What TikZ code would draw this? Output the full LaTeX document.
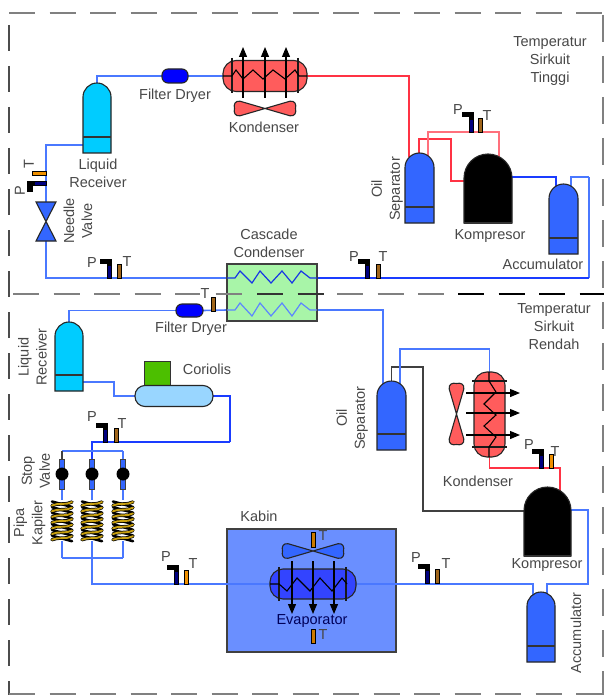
\documentclass[tikz,border=0pt]{standalone}
\usepackage{fontspec}
\setmainfont{Liberation Sans}
\usetikzlibrary{arrows.meta,shapes.misc}
\pgfdeclarelayer{back}
\pgfdeclarelayer{pipes}
\pgfsetlayers{back,pipes,main}
\definecolor{txt}{HTML}{484848}
\definecolor{vesblue}{HTML}{3366FF}
\definecolor{vescyan}{HTML}{00CCFF}
\definecolor{redfill}{HTML}{FF5C5C}
\definecolor{pipeblue}{HTML}{4A78FF}
\definecolor{pipedeep}{HTML}{1A3CFF}
\definecolor{pipered}{HTML}{FF3344}
\definecolor{brownT}{HTML}{A0651A}
\definecolor{orangeT}{HTML}{F09000}
\definecolor{framegray}{HTML}{808080}
\definecolor{kabinfill}{HTML}{6A8FFF}
\definecolor{evapfill}{HTML}{3344FF}
\definecolor{greenfill}{HTML}{A8F5A8}
\definecolor{coilgold}{HTML}{C8A010}
\tikzset{
  lbl/.style={font=\fontsize{14.5}{18}\selectfont,text=txt,align=center,inner sep=0pt},
  senslbl/.style={font=\fontsize{14.5}{18}\selectfont,text=txt,inner sep=0pt},
  pb/.style={draw=pipeblue,line width=1.6pt},
  pd/.style={draw=pipedeep,line width=1.4pt},
  pr/.style={draw=pipered,line width=1.5pt},
  pk/.style={draw=black!75,line width=1.3pt},
  edge/.style={draw=black!85,line width=1.1pt},
  capsule/.style={rectangle,rounded corners=#1,edge,inner sep=0pt,outer sep=0pt},
  ghost/.style={inner sep=0pt,outer sep=0pt},
  arrowline/.style={line width=1.2pt,-{Triangle[length=10pt,width=8pt]}},
  zig/.style={line width=1.1pt,black},
  sheet/.style={line width=1.3pt,black!90},
  framea/.style={framegray,line width=2.3pt,dash pattern=on 26pt off 14.5pt},
  frameb/.style={black!70,line width=1.6pt,dash pattern=on 26pt off 15pt},
  framec/.style={black!80,line width=1.4pt,dash pattern=on 26pt off 14.5pt}
}
\newcommand{\vessel}[7]{%
  \pgfmathsetmacro\vm{(#2+#3)/2}%
  \pgfmathsetmacro\vh{(#3-#2)/2}%
  \pgfmathsetmacro\vs{#4+\vh}%
  \pgfmathsetmacro\vk{0.55*\vh}%
  \pgfmathsetmacro\vc{(#4+#5)/2}%
  \pgfmathsetmacro\vw{#3-#2}%
  \pgfmathsetmacro\vt{#5-#4}%
  \node[ghost,minimum width=\vw pt,minimum height=\vt pt] (#1) at (\vm,\vc) {};
  \draw[edge,fill=#7] (#2,#5) -- (#2,\vs) .. controls (#2,\vs-\vk) and (\vm-\vk,#4) .. (\vm,#4)
     .. controls (\vm+\vk,#4) and (#3,\vs-\vk) .. (#3,\vs) -- (#3,#5) -- cycle;
  \draw[line width=1.3pt,black!80] (#2,#6) -- (#3,#6);
}
% name Px yb Tx Tcolour Plabel Tlabel
\newcommand{\gauges}[7]{%
  \fill[black] (#2-9,#3-19.5) rectangle (#2+2.5,#3-14.5);
  \fill[black] (#2-2.5,#3-19.5) rectangle (#2+2.5,#3-13);
  \draw[black,line width=0.6pt,fill=blue!50!black] (#2-2.2,#3-13) rectangle (#2+2.2,#3);
  \draw[black,line width=0.6pt,fill=#5] (#4-2.2,#3-14) rectangle (#4+2.2,#3);
  \node[senslbl] (p#1) at #6 {P};
  \node[senslbl] (t#1) at #7 {T};
}
\newcommand{\fanshape}[4]{%
  \begin{scope}[shift={(#1,#2)},rotate=#3]
  \draw[edge,fill=#4] (0,0) -- (-25,-7.3)
     .. controls (-30,-8) and (-31.5,-4) .. (-30.5,0)
     .. controls (-31.5,4) and (-30,8) .. (-25,7.3)
     -- (0,0) -- (25,-7.3)
     .. controls (30,-8) and (31.5,-4) .. (30.5,0)
     .. controls (31.5,4) and (30,8) .. (25,7.3)
     -- (0,0) -- cycle;
  \end{scope}
}
\newcommand{\stopvalve}[2]{%
  \node[rectangle,draw=black!75,fill=vesblue,line width=1pt,minimum width=5.5pt,minimum height=30pt,inner sep=0pt,outer sep=0pt] (#1) at (#2,474) {};
  \fill[black] (#2,474) circle [radius=6.5pt];
}
\newcommand{\coil}[2]{%
  \node[ghost,minimum width=22pt,minimum height=41pt] (#1) at (#2,520.5) {};
  \foreach \i in {0,...,6} {
    \pgfmathsetmacro\yy{503.5+5.7*\i}
    \draw[black,line width=2.6pt,line cap=round] (#2-10,\yy-2) -- (#2+10,\yy+3.5);
  }
  \foreach \i in {0,...,6} {
    \pgfmathsetmacro\yy{503.5+5.7*\i}
    \draw[black,line width=3.4pt,line cap=round] (#2-10,\yy+2) .. controls (#2-4,\yy-1) and (#2+4,\yy+2) .. (#2+10,\yy-1.5);
    \draw[coilgold,line width=1.9pt,line cap=round] (#2-10,\yy+2) .. controls (#2-4,\yy-1) and (#2+4,\yy+2) .. (#2+10,\yy-1.5);
  }
}
\begin{document}
\begin{tikzpicture}[x=1pt,y=-1pt]
\useasboundingbox (0,0) rectangle (604,695);
\begin{pgfonlayer}{back}
  \fill[white] (0,0) rectangle (604,695);
  \node[rectangle,draw=black!75,line width=1.2pt,fill=kabinfill,minimum width=169pt,minimum height=123pt,inner sep=0pt,outer sep=0pt] (kabin) at (311.5,590.5) {};
\end{pgfonlayer}

% ---------- upper circuit components
\vessel{rcv1}{83}{111}{83}{153}{137}{vescyan}
\node[capsule=6pt,fill=blue,minimum width=26pt,minimum height=14pt] (fd1) at (175,76) {};
\node[lbl] (fd1l) at (175,96) {Filter Dryer};
\node[capsule=13pt,fill=redfill,minimum width=84pt,minimum height=31pt] (cond1) at (265,76) {};
\draw[sheet] (232,58) -- (232,93) (298,58) -- (298,93);
\draw[zig] (223,76) -- (232,76) -- (236,70) -- (243,79) -- (253,70) -- (263,79) -- (273,70) -- (285,79) -- (295,70) -- (299,76) -- (307,76);
\foreach \xx in {243,265,286} { \draw[arrowline] (\xx,98) -- (\xx,47); }
\fanshape{265}{108.5}{0}{redfill}
\node[lbl] (cond1l) at (264,127) {Kondenser};
\vessel{sep1}{405}{434}{153}{223}{207}{vesblue}
\node[lbl,rotate=90] (sep1l) at (387,189) {Oil\\Separator};
\vessel{kp1}{464}{512}{154}{223}{223}{black}
\node[lbl] (kp1l) at (490,236) {Kompresor};
\vessel{acc1}{549}{578}{184}{254}{238}{vesblue}
\node[lbl] (acc1l) at (543,264) {Accumulator};
\node[lbl] (rcv1l) at (98,173) {Liquid\\Receiver};
\node[ghost,minimum width=20pt,minimum height=39pt] (nv) at (46,221.5) {};
\draw[edge,fill=vesblue] (36,202) -- (56,202) -- (36,241) -- (56,241) -- cycle;
\node[lbl,rotate=90] (nvl) at (78,221) {Needle\\Valve};
\node[lbl] (tsirk1) at (550,61) {Temperatur\\Sirkuit\\Tinggi};
\node[rectangle,draw=black!75,line width=1.2pt,fill=greenfill,minimum width=90pt,minimum height=57pt,inner sep=0pt,outer sep=0pt] (casc) at (272,292.5) {};
\node[lbl] (cascl) at (269,243) {Cascade\\Condenser};
% ---------- lower circuit components
\vessel{rcv2}{55}{83}{322}{391}{375}{vescyan}
\node[lbl,rotate=90] (rcv2l) at (32.5,357) {Liquid\\Receiver};
\node[capsule=6pt,fill=blue,minimum width=27pt,minimum height=13pt] (fd2) at (189.5,310.5) {};
\node[lbl] (fd2l) at (191,329) {Filter Dryer};
\node[rectangle,draw=black!80,line width=0.9pt,fill=green!60!yellow!75!black,minimum width=26pt,minimum height=25pt,inner sep=0pt] (corbox) at (157,373.5) {};
\node[capsule=10pt,fill=blue!40!cyan!40,minimum width=78pt,minimum height=21pt] (cor) at (174,396) {};
\node[lbl] (corl) at (207,369) {Coriolis};
\stopvalve{sv1}{62}
\stopvalve{sv2}{92}
\stopvalve{sv3}{123}
\coil{cp1}{62}
\coil{cp2}{92}
\coil{cp3}{123}
\node[lbl,rotate=90] (svl) at (36,471) {Stop\\Valve};
\node[lbl,rotate=90] (cpl) at (29.5,523) {Pipa\\Kapiler};
\node[lbl] (kabinl) at (259,516) {Kabin};
\fanshape{313}{551}{0}{vesblue}
\node[capsule=13pt,fill=evapfill,minimum width=86pt,minimum height=30pt] (evap) at (313,584) {};
\draw[sheet] (279,567) -- (279,601) (346,567) -- (346,601);
\draw[zig] (270,584) -- (279,584) -- (287,591) -- (297,578) -- (310,591) -- (320,578) -- (332,591) -- (342,578) -- (347,584);
\foreach \xx in {292,313,334} { \draw[arrowline] (\xx,561) -- (\xx,614); }
\node[lbl,text=black!65!blue] (evapl) at (312,621) {Evaporator};
\draw[black,line width=0.6pt,fill=orangeT!85!black] (310.8,532) rectangle (315.2,547);
\node[senslbl] (tk1) at (323,536) {T};
\draw[black,line width=0.6pt,fill=orangeT!85!black] (310.8,629) rectangle (315.2,643);
\node[senslbl] (tk2) at (323,635) {T};
\vessel{sep2}{377}{406}{381}{450}{434}{vesblue}
\node[lbl,rotate=90] (sep2l) at (352,418) {Oil\\Separator};
\node[capsule=13pt,fill=redfill,minimum width=31pt,minimum height=85pt] (cond2) at (489.5,414.5) {};
\draw[sheet] (472,381) -- (507,381) (472,447) -- (507,447);
\draw[zig] (489,372) -- (489,381) -- (496,392) -- (484,404) -- (496,415) -- (484,426) -- (496,437) -- (489,447) -- (489,457);
\foreach \yy in {393,413,435} { \draw[arrowline] (466,\yy) -- (520,\yy); }
\fanshape{456.5}{414}{90}{redfill}
\node[lbl] (cond2l) at (478,481) {Kondenser};
\vessel{kp2}{524}{571}{487}{556}{556}{black}
\node[lbl] (kp2l) at (547,565) {Kompresor};
\vessel{acc2}{527}{555}{592}{662}{646}{vesblue}
\node[lbl,rotate=90] (acc2l) at (576,633) {Accumulator};
\node[lbl] (tsirk2) at (554,327) {Temperatur\\Sirkuit\\Rendah};

% ---------- ports and bends
\coordinate (sep1a) at (409,157);
\coordinate (sep1b) at (419,155);
\coordinate (sep1c) at (428,160);
\coordinate (b1) at (451,139);
\coordinate (kp1a) at (464,181);
\coordinate (b2) at (499,132);
\coordinate (kp1b) at (499,160);
\coordinate (kp1c) at (512,177);
\coordinate (acc1a) at (556,188);
\coordinate (acc1b) at (571,188);
\coordinate (b3) at (589,177);
\coordinate (cascur) at (317,278);
\coordinate (cascul) at (227,278);
\coordinate (rcv1p) at (83,145);
\coordinate (casclr) at (317,310);
\coordinate (cascll) at (227,310);
\coordinate (rcv2p) at (83,382);
\coordinate (b4) at (114,396);
\coordinate (b5) at (230,442);
\coordinate (mt1) at (62,451);
\coordinate (mt3) at (123,451);
\coordinate (mb1) at (62,558);
\coordinate (mb3) at (123,558);
\coordinate (b9) at (588,584);
\coordinate (kp2c) at (571,510);
\coordinate (acc2a) at (533,595);
\coordinate (acc2b) at (547,595);
\coordinate (kp2a) at (524,511);
\coordinate (b10) at (423,367);
\coordinate (sep2a) at (383,385);
\coordinate (sep2b) at (400,385);
\coordinate (b12) at (489.5,349);
\coordinate (b13) at (560,468);
\coordinate (kp2b) at (560,491);
\coordinate (fTL) at (9,13);
\coordinate (fTR) at (604,13);
\coordinate (fL1) at (9,25);
\coordinate (fL2) at (9,695);
\coordinate (fR1) at (603,15);
\coordinate (fR2) at (603,695);
\coordinate (fBL) at (9,694);
\coordinate (fBR) at (604,694);
\coordinate (m1) at (13,294);
\coordinate (m2) at (243,294);
\coordinate (m3) at (257,294);
\coordinate (m4) at (324,294);
\coordinate (m5) at (337,294);
\coordinate (m6) at (445,294);
\coordinate (m7) at (458,294);
\coordinate (m8) at (604,294);

% ---------- pipes
\begin{pgfonlayer}{pipes}
  \draw[pb] (rcv1.north) |- (fd1.west);
  \draw[pb] (fd1.east) -- (cond1.west);
  \draw[pr] (cond1.east) -| (sep1a);
  \draw[pr] (sep1b) |- (b1) |- (kp1a);
  \draw[pr,draw=pipered!70] (sep1c) |- (b2) -- (kp1b);
  \draw[pd] (kp1c) -| (acc1a);
  \draw[pb] (acc1b) |- (b3);
  \draw[pb] (b3) -- (b3 |- cascur);
  \draw[pd] (b3 |- cascur) -- (cascur);
  \draw[pb] (cascul) -| (nv.south);
  \draw[pb] (nv.north) |- (rcv1p);
  \draw[pb] (cascll) -- (fd2.east);
  \draw[pb] (fd2.west) -| (rcv2.north);
  \draw[pb] (rcv2p) -| (b4) -- (cor.west);
  \draw[pd] (cor.east) -| (b5);
  \draw[pd] (b5) -| (sv2.north);
  \draw[pb] (mt1) -- (mt3);
  \draw[pk] (mt1) -- (sv1.north);
  \draw[pb] (mt3) -- (sv3.north);
  \draw[pb] (sv1.south) -- (cp1.north);
  \draw[pb] (sv2.south) -- (cp2.north);
  \draw[pb] (sv3.south) -- (cp3.north);
  \draw[pb] (cp1.south) -- (mb1);
  \draw[pb] (cp3.south) -- (mb3);
  \draw[pb] (mb1) -- (mb3);
  \draw[pb] (cp2.south) |- (evap.west);
  \draw[pb] (evap.east) -| (acc2a);
  \draw[pb] (acc2b) |- (b9) |- (kp2c);
  \draw[pk] (kp2a) -| (b10) -| (sep2.north);
  \draw[pb] (casclr) -| (sep2a);
  \draw[pb] (sep2b) |- (b12) -- (cond2.north);
  \draw[pr] (cond2.south) |- (b13) -- (kp2b);
\end{pgfonlayer}

% ---------- cascade tube coils
\draw[line width=1.2pt,pipedeep!90!black] (cascul) -- (235,278) -- (240,271) -- (252,283) -- (260,271) -- (271,283) -- (282,271) -- (292,283) -- (301,271) -- (310,278) -- (cascur);
\draw[line width=1.2pt,pipeblue!90] (cascll) -- (235,310) -- (240,303) -- (252,316) -- (260,303) -- (271,316) -- (282,303) -- (292,316) -- (301,303) -- (310,310) -- (casclr);

% ---------- sensors
\gauges{a}{109}{278}{119.5}{brownT}{(92,263)}{(127,262)}
\gauges{b}{471}{132}{480.5}{brownT}{(458,110)}{(487,116)}
\gauges{c}{367}{278}{378}{brownT}{(354,257)}{(383,257)}
\gauges{d}{105}{442}{116}{brownT}{(92,417)}{(122,424)}
\gauges{e}{176}{584}{186}{orangeT}{(166,557)}{(193,564)}
\gauges{f}{427}{583}{437}{brownT}{(416,558)}{(446,564)}
\gauges{g}{541}{468}{551}{orangeT}{(529,445)}{(555,452)}
% sensors on the needle valve riser (turned)
\draw[black,line width=0.6pt,fill=orangeT] (32,170.8) rectangle (46,175);
\node[senslbl,rotate=90] (th) at (29,164) {T};
\fill[black] (27,181) rectangle (33,192);
\fill[black] (27,181) rectangle (36,186);
\draw[black,line width=0.6pt,fill=blue!50!black] (34,181) rectangle (46,185);
\node[senslbl,rotate=90] (ph) at (20,191) {P};

% ---------- boundary
\draw[framea] (fTL) -- (fTR);
\draw[frameb] (fL1) -- (fL2);
\draw[framea] (m1) -- (m2);
\draw[framec] (m3) -- (m4);
\draw[framea] (m5) -- (m6);
\draw[framec,black] (m7) -- (m8);
\draw[framegray,line width=1.6pt,dash pattern=on 27pt off 14pt] (fR1) -- (fR2);
\draw[framea,line width=1.6pt] (fBL) -- (fBR);
% T of the filter dryer
\draw[black,line width=0.6pt,fill=brownT] (211,297) rectangle (215.4,311);
\node[senslbl,fill=white,inner sep=1pt] (tfd) at (205,294) {T};
\end{tikzpicture}
\end{document}
